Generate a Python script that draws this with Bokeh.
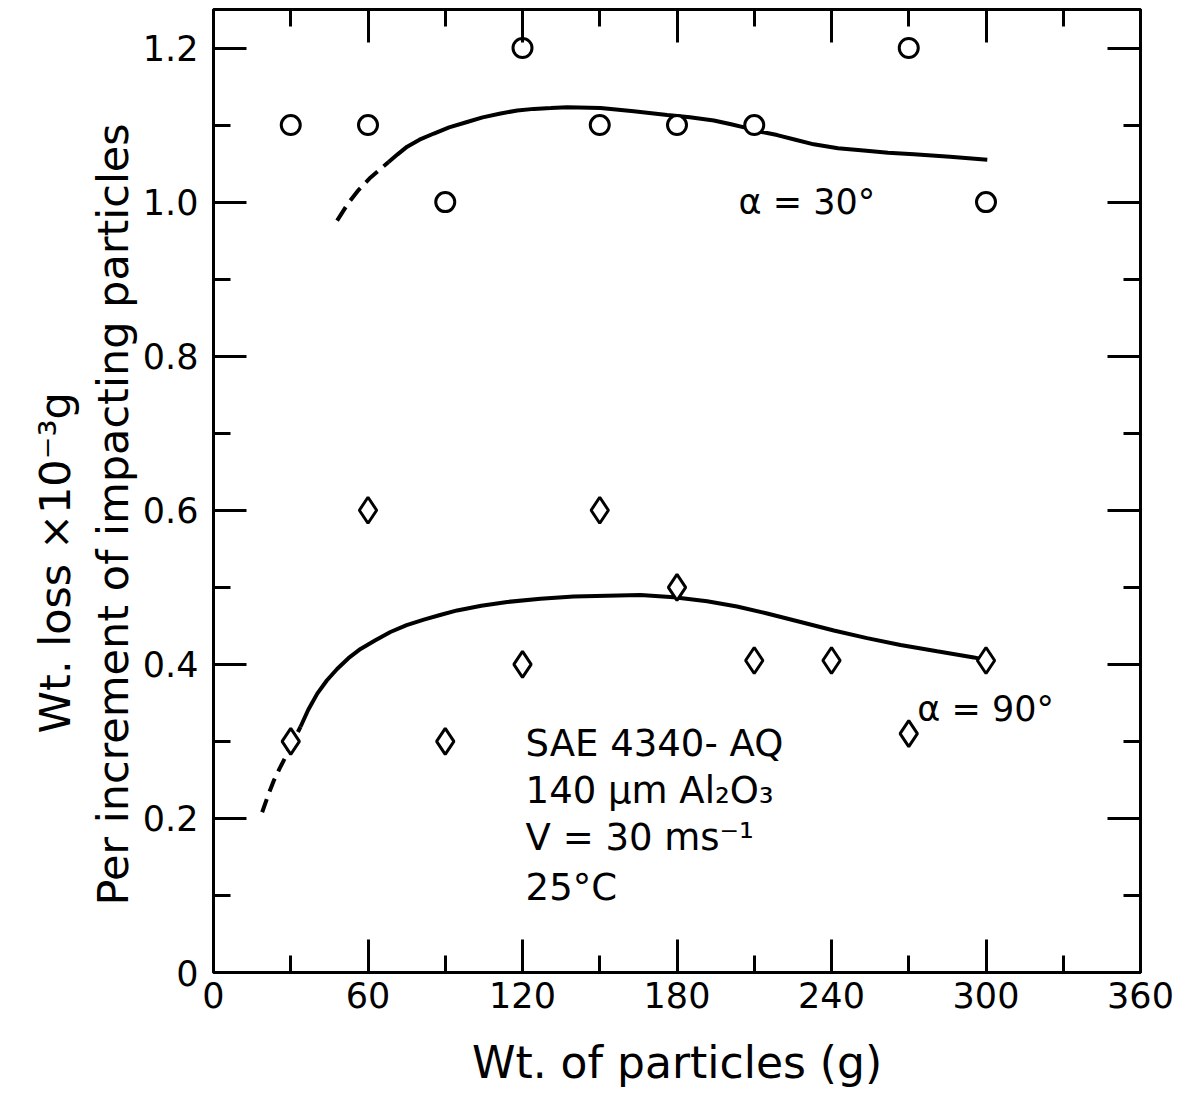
from bokeh.plotting import figure
from bokeh.models import Range1d, LinearAxis, FixedTicker, Title
from bokeh.core.properties import value
from bokeh.embed import file_html
from bokeh.resources import INLINE

FONT = "DejaVu Sans"

# ---------------- data ----------------
x_ticks = [0, 60, 120, 180, 240, 300, 360]
x_minor = [30, 90, 150, 210, 270, 330]
x_tick_labels = ["0", "60", "120", "180", "240", "300", "360"]
y_ticks = [0, 0.2, 0.4, 0.6, 0.8, 1.0, 1.2]
y_minor = [0.1, 0.3, 0.5, 0.7, 0.9, 1.1]
y_tick_labels = ["0", "0.2", "0.4", "0.6", "0.8", "1.0", "1.2"]

# alpha = 30 deg (circles)
x30 = [30, 60, 90, 120, 150, 180, 210, 270, 300]
y30 = [1.10, 1.10, 1.00, 1.20, 1.10, 1.10, 1.10, 1.20, 1.00]
# alpha = 90 deg (diamonds)
x90 = [30, 60, 90, 120, 150, 180, 210, 240, 270, 300]
y90 = [0.30, 0.60, 0.30, 0.40, 0.60, 0.50, 0.405, 0.405, 0.31, 0.405]

# hand-drawn trend curves
fit30_dash_x = [48.0, 52.0, 56.4, 61.0, 65.5, 68.0]
fit30_dash_y = [0.976, 0.997, 1.016, 1.032, 1.045, 1.052]
fit30_x = [68.0, 71.5, 75.2, 80.0, 85.6, 91.5, 98.5, 104.5, 111.5, 118.0, 124.4,
           131.0, 137.4, 150.3, 163.2, 176.2, 185.0, 194.3, 201.0, 207.3, 213.0,
           218.9, 226.0, 233.1, 242.5, 252.5, 262.0, 272.0, 286.0, 300.5]
fit30_y = [1.052, 1.062, 1.072, 1.081, 1.089, 1.097, 1.104, 1.110, 1.115, 1.119, 1.121,
           1.122, 1.123, 1.122, 1.118, 1.113, 1.110, 1.106, 1.101, 1.096, 1.091,
           1.087, 1.081, 1.075, 1.070, 1.067, 1.064, 1.062, 1.059, 1.055]

fit90_dash_x = [18.9, 21.2, 23.4, 25.7, 28.0, 30.9, 33.8]
fit90_dash_y = [0.208, 0.230, 0.249, 0.265, 0.280, 0.300, 0.319]
fit90_x = [33.8, 36.8, 40.3, 44.0, 48.0, 52.4, 57.1, 62.7, 68.7, 75.0, 81.7, 88.0,
           94.6, 104.0, 114.1, 127.0, 139.9, 152.8, 165.8, 178.8, 191.7, 203.3,
           215.0, 228.0, 240.9, 253.8, 266.8, 281.0, 295.3, 297.9]
fit90_y = [0.319, 0.341, 0.362, 0.379, 0.394, 0.408, 0.420, 0.431, 0.442, 0.451,
           0.458, 0.464, 0.470, 0.476, 0.481, 0.485, 0.488, 0.489, 0.490, 0.487,
           0.482, 0.475, 0.466, 0.455, 0.444, 0.434, 0.425, 0.417, 0.409, 0.407]

# annotations
curve_label_x = [203.9, 273.3]
curve_label_y = [1.0, 0.342]
curve_label_text = ["α = 30°", "α = 90°"]

note_x = [121.2, 121.2, 121.2, 121.2]
note_y = [0.297, 0.236, 0.175, 0.110]
note_text = ["SAE 4340- AQ", "140 μm Al₂O₃", "V = 30 ms⁻¹", "25°C"]

x_title = "Wt. of particles (g)"
y_title_1 = "Wt. loss ×10⁻³g"
y_title_2 = "Per increment of impacting particles"

# ---------------- figure ----------------
p = figure(width=1179, height=1108,
           x_range=Range1d(0, 360), y_range=Range1d(0, 1.25),
           output_backend="svg", toolbar_location=None,
           min_border_left=213, min_border_right=39,
           min_border_top=9, min_border_bottom=136,
           background_fill_color="white", border_fill_color="white")
p.grid.visible = False
p.outline_line_color = "black"
p.outline_line_width = 3


def style_axis(ax, ticks, minor, labels, show):
    ax.ticker = FixedTicker(ticks=ticks, minor_ticks=minor)
    ax.major_tick_in = 33
    ax.major_tick_out = 0
    ax.minor_tick_in = 17
    ax.minor_tick_out = 0
    ax.major_tick_line_width = 3
    ax.minor_tick_line_width = 3
    ax.major_tick_line_color = "black"
    ax.minor_tick_line_color = "black"
    ax.axis_line_width = 3
    ax.axis_line_color = "black"
    if show:
        ax.major_label_overrides = {t: lab for t, lab in zip(ticks, labels)}
        ax.major_label_text_font = FONT
        ax.major_label_text_font_size = "35px"
        ax.major_label_text_color = "black"
    else:
        ax.major_label_overrides = {t: "" for t in ticks}
        ax.major_label_text_font_size = "0px"
        ax.major_label_standoff = 0


xa = p.xaxis[0]
style_axis(xa, x_ticks, x_minor, x_tick_labels, True)
xa.major_label_standoff = 9
xa.axis_label = x_title
xa.axis_label_text_font = FONT
xa.axis_label_text_font_size = "44px"
xa.axis_label_text_font_style = "normal"
xa.axis_label_text_color = "black"
xa.axis_label_standoff = 26

ya = p.yaxis[0]
style_axis(ya, y_ticks, y_minor, y_tick_labels, True)
ya.major_label_standoff = 15

top = LinearAxis()
style_axis(top, x_ticks, x_minor, x_tick_labels, False)
p.add_layout(top, "above")
right = LinearAxis()
style_axis(right, y_ticks, y_minor, y_tick_labels, False)
p.add_layout(right, "right")

t_inner = Title(text=y_title_2, align="left", offset=67, text_font=FONT,
                text_font_size="43px", text_font_style="normal",
                text_color="black", standoff=4)
p.add_layout(t_inner, "left")
t_outer = Title(text=y_title_1, align="left", offset=239, text_font=FONT,
                text_font_size="43px", text_font_style="normal",
                text_color="black", standoff=8)
p.add_layout(t_outer, "left")

# curves
p.line(fit30_dash_x, fit30_dash_y, line_color="black", line_width=4, line_dash="16 8")
p.line(fit30_x, fit30_y, line_color="black", line_width=4)
p.line(fit90_dash_x, fit90_dash_y, line_color="black", line_width=4, line_dash="14 8")
p.line(fit90_x, fit90_y, line_color="black", line_width=4)

# markers
p.scatter(x30, y30, marker="circle", size=19, fill_color="white",
          line_color="black", line_width=3)
p.scatter(x90, y90, marker="diamond", size=26, fill_color="white",
          line_color="black", line_width=3)

# texts
p.text(curve_label_x, curve_label_y, text=curve_label_text,
       text_font=value(FONT), text_font_size="35px", text_color="black",
       text_align="left", text_baseline="alphabetic")
p.text(note_x, note_y, text=note_text,
       text_font=value(FONT), text_font_size="37px", text_color="black",
       text_align="left", text_baseline="alphabetic")

open("out.html", "w").write(file_html(p, INLINE))
